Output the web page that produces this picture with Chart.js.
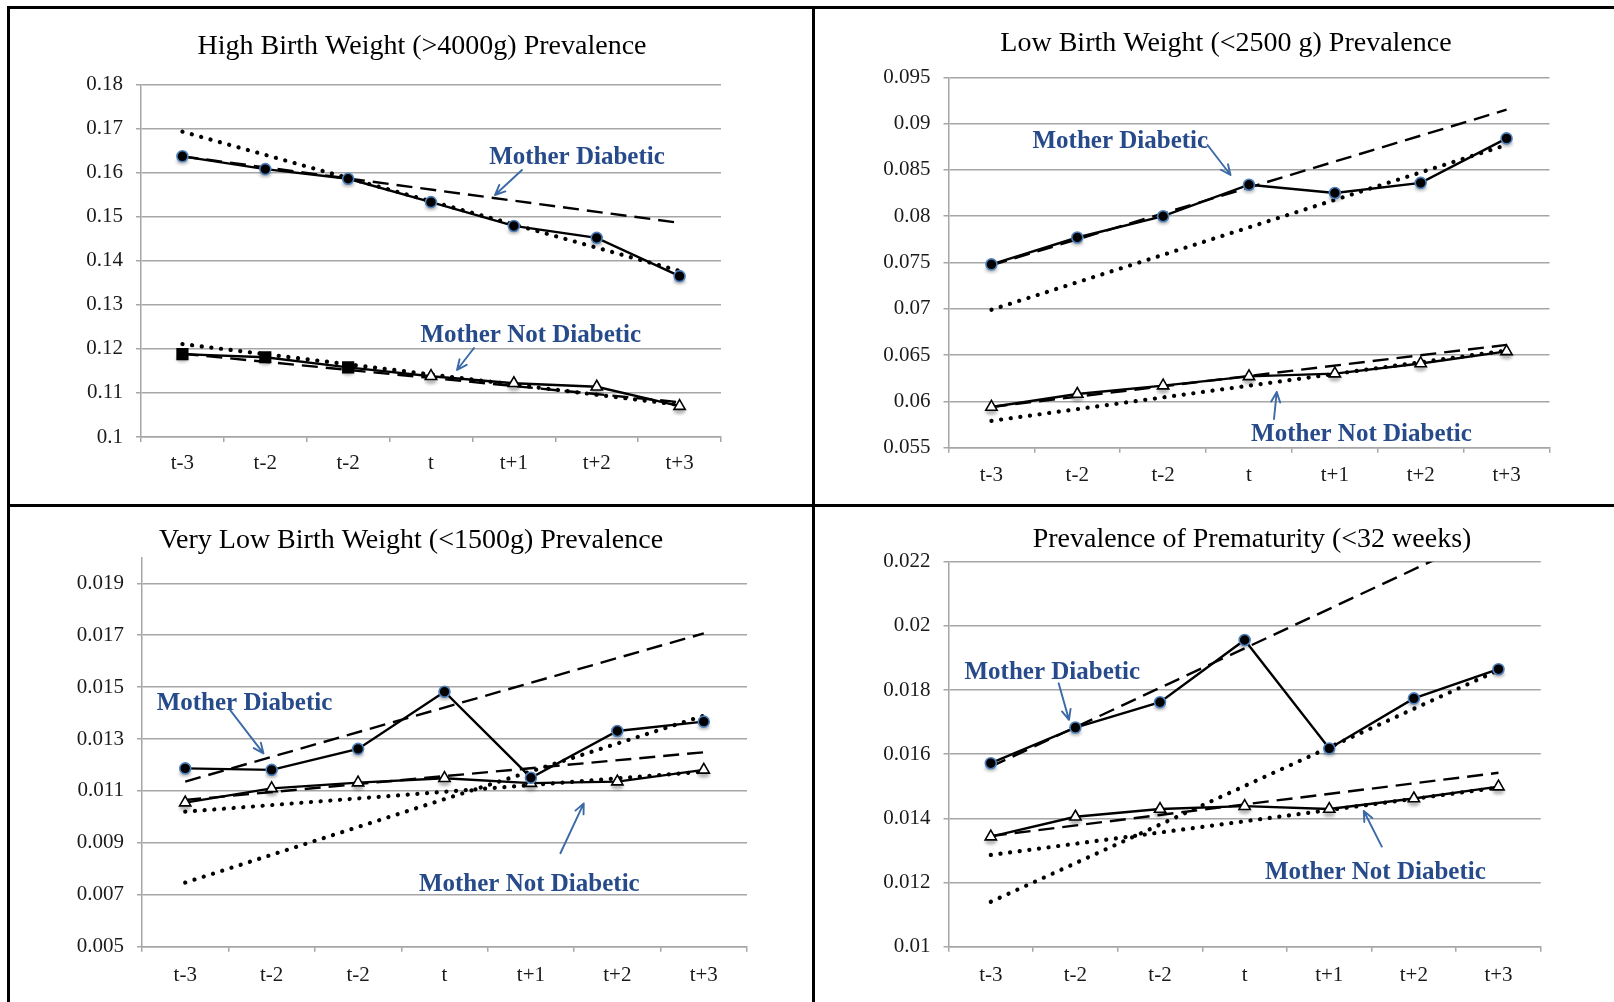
<!DOCTYPE html>
<html lang="en">
  <head>
    <meta charset="UTF-8" />
    <title>Birth outcomes, diabetic vs non-diabetic mothers</title>
    <style>
      * {
        margin: 0;
        padding: 0;
        box-sizing: border-box;
      }

      body {
        width: 1614px;
        height: 1002px;
        background: #fff;
        position: relative;
        overflow: hidden;
      }

      .rule {
        position: absolute;
        background: #000;
      }

      canvas {
        position: absolute;
      }
    </style>
  </head>
  <body>
    <div class="rule" style="left: 7px; top: 6px; width: 1607px; height: 3px"></div>
    <div class="rule" style="left: 7px; top: 6px; width: 3px; height: 996px"></div>
    <div class="rule" style="left: 812px; top: 6px; width: 3px; height: 996px"></div>
    <div class="rule" style="left: 7px; top: 504px; width: 1607px; height: 3px"></div>

    <canvas id="hbw" width="802" height="495" style="left: 10px; top: 9px"></canvas>
    <canvas id="lbw" width="799" height="495" style="left: 815px; top: 9px"></canvas>
    <canvas id="vlbw" width="802" height="495" style="left: 10px; top: 507px"></canvas>
    <canvas id="prem" width="799" height="495" style="left: 815px; top: 507px"></canvas>

    <script src="https://cdn.jsdelivr.net/npm/chart.js"></script>

    <script>
      const categories = ["t-3", "t-2", "t-2", "t", "t+1", "t+2", "t+3"];

      // High birth weight (>4000g)
      const hbwTicks = ["0.1", "0.11", "0.12", "0.13", "0.14", "0.15", "0.16", "0.17", "0.18"];
      const hbwDiabetic = [0.1637, 0.1608, 0.1586, 0.1533, 0.1479, 0.1452, 0.1365];
      const hbwNotDiabetic = [0.1188, 0.1181, 0.1158, 0.1138, 0.1122, 0.1114, 0.107];
      // trend lines: value at t-3 and at t+3
      const hbwDiabeticDashed = [0.1637, 0.1486];
      const hbwDiabeticDotted = [0.1693, 0.1377];
      const hbwNotDiabeticDashed = [0.1189, 0.1079];
      const hbwNotDiabeticDotted = [0.1211, 0.1073];

      // Low birth weight (<2500 g)
      const lbwTicks = ["0.055", "0.06", "0.065", "0.07", "0.075", "0.08", "0.085", "0.09", "0.095"];
      const lbwDiabetic = [0.0748, 0.0777, 0.08, 0.0834, 0.0825, 0.0836, 0.0884];
      const lbwNotDiabetic = [0.0594, 0.0608, 0.0617, 0.0627, 0.063, 0.0641, 0.0654];
      const lbwDiabeticDashed = [0.0747, 0.0915];
      const lbwDiabeticDotted = [0.0699, 0.0877];
      const lbwNotDiabeticDashed = [0.0594, 0.0661];
      const lbwNotDiabeticDotted = [0.0579, 0.0655];

      // Very low birth weight (<1500g)
      const vlbwTicks = ["0.005", "0.007", "0.009", "0.011", "0.013", "0.015", "0.017", "0.019"];
      const vlbwDiabetic = [0.01187, 0.01181, 0.01262, 0.01482, 0.01151, 0.01331, 0.01367];
      const vlbwNotDiabetic = [0.01055, 0.0111, 0.01132, 0.01149, 0.0113, 0.01136, 0.01181];
      const vlbwDiabeticDashed = [0.01136, 0.01707];
      const vlbwDiabeticDotted = [0.00747, 0.0139];
      const vlbwNotDiabeticDashed = [0.01065, 0.01249];
      const vlbwNotDiabeticDotted = [0.0102, 0.01174];

      // Prematurity (<32 weeks)
      const premTicks = ["0.01", "0.012", "0.014", "0.016", "0.018", "0.02", "0.022"];
      const premDiabetic = [0.01572, 0.01683, 0.01762, 0.01956, 0.01618, 0.01774, 0.01865];
      const premNotDiabetic = [0.01343, 0.01405, 0.01429, 0.01438, 0.01429, 0.01462, 0.01499];
      const premDiabeticDashed = [0.01561, 0.02299];
      const premDiabeticDotted = [0.0114, 0.01862];
      const premNotDiabeticDashed = [0.01345, 0.01542];
      const premNotDiabeticDotted = [0.01286, 0.01496];

      const GRID = "#a6a6a6";
      const NOTE = "#264a8a";
      const ARROW = "#3b6aa6";
      const tickFont = { family: "Liberation Serif", size: 21 };

      // annotation text and arrows, in category index / value units
      const notes = {
        hbw: {
          labels: [
            { text: "Mother Diabetic", x: 4.762, y: 0.16207 },
            { text: "Mother Not Diabetic", x: 4.204, y: 0.12165 },
          ],
          arrows: [
            [4.098, 0.1606, 3.772, 0.15492],
            [3.519, 0.1202, 3.314, 0.1152],
          ],
        },
        lbw: {
          labels: [
            { text: "Mother Diabetic", x: 1.501, y: 0.08733 },
            { text: "Mother Not Diabetic", x: 4.31, y: 0.05569 },
          ],
          arrows: [
            [2.517, 0.08769, 2.785, 0.08445],
            [3.291, 0.0581, 3.323, 0.06101],
          ],
        },
        vlbw: {
          labels: [
            { text: "Mother Diabetic", x: 0.686, y: 0.01411 },
            { text: "Mother Not Diabetic", x: 3.981, y: 0.007146 },
          ],
          arrows: [
            [0.518, 0.01412, 0.905, 0.01245],
            [4.341, 0.0086, 4.611, 0.01052],
          ],
        },
        prem: {
          labels: [
            { text: "Mother Diabetic", x: 0.727, y: 0.01834 },
            { text: "Mother Not Diabetic", x: 4.545, y: 0.01211 },
          ],
          arrows: [
            [0.802, 0.01821, 0.924, 0.01707],
            [4.621, 0.01312, 4.408, 0.01423],
          ],
        },
      };

      const panelTitle = {
        id: "panelTitle",
        afterDraw(chart, args, opts) {
          const ctx = chart.ctx;
          ctx.save();
          ctx.font = '28px "Liberation Serif"';
          ctx.fillStyle = "#000";
          ctx.textAlign = "center";
          ctx.textBaseline = "alphabetic";
          ctx.fillText(opts.text, opts.x, opts.y);
          ctx.restore();
        },
      };

      // soft grey shadow under the markers of the two observed series
      const markerShadow = {
        id: "markerShadow",
        beforeDatasetsDraw(chart) {
          const ctx = chart.ctx;
          ctx.save();
          ctx.filter = "blur(1.5px)";
          ctx.fillStyle = "rgba(0, 0, 0, 0.28)";
          [0, 1].forEach((i) => {
            chart.getDatasetMeta(i).data.forEach((pt) => {
              ctx.beginPath();
              ctx.ellipse(pt.x, pt.y + 5, 6, 3, 0, 0, Math.PI * 2);
              ctx.fill();
            });
          });
          ctx.restore();
        },
      };

      const callouts = {
        id: "callouts",
        afterDatasetsDraw(chart) {
          const {
            ctx,
            scales: { x, y },
          } = chart;
          const n = notes[chart.canvas.id];
          ctx.save();
          ctx.font = 'bold 25px "Liberation Serif"';
          ctx.fillStyle = NOTE;
          ctx.textAlign = "center";
          ctx.textBaseline = "alphabetic";
          n.labels.forEach((l) => {
            ctx.fillText(l.text, x.getPixelForValue(l.x), y.getPixelForValue(l.y));
          });

          ctx.strokeStyle = ARROW;
          ctx.lineWidth = 1.9;
          ctx.lineCap = "round";
          n.arrows.forEach((a) => {
            const x1 = x.getPixelForValue(a[0]);
            const y1 = y.getPixelForValue(a[1]);
            const x2 = x.getPixelForValue(a[2]);
            const y2 = y.getPixelForValue(a[3]);
            const ang = Math.atan2(y2 - y1, x2 - x1);
            ctx.beginPath();
            ctx.moveTo(x1, y1);
            ctx.lineTo(x2, y2);
            for (const s of [-1, 1]) {
              ctx.moveTo(x2, y2);
              ctx.lineTo(x2 - 11 * Math.cos(ang + s * 0.42), y2 - 11 * Math.sin(ang + s * 0.42));
            }
            ctx.stroke();
          });
          ctx.restore();
        },
      };

      // two-point trend line spanning t-3 .. t+3
      function trend(ends, dotted) {
        const data = categories.map(() => null);
        data[0] = ends[0];
        data[data.length - 1] = ends[1];
        return {
          data: data,
          spanGaps: true,
          borderColor: "#000",
          borderWidth: dotted ? 4.2 : 2.4,
          borderDash: dotted ? [0.1, 9.6] : [16, 8],
          borderCapStyle: dotted ? "round" : "butt",
          pointRadius: 0,
        };
      }

      function makePanel(p) {
        const tickValues = p.ticks.map(Number);
        const nd = p.notDiabeticMarkers || {};
        return new Chart(document.getElementById(p.id), {
          type: "line",
          data: {
            labels: categories,
            datasets: [
              {
                data: p.diabetic,
                borderColor: "#000",
                borderWidth: 2.4,
                pointStyle: "circle",
                pointRadius: 5.5,
                pointBackgroundColor: "#000",
                pointBorderColor: "#4f81bd",
                pointBorderWidth: 1.6,
              },
              {
                data: p.notDiabetic,
                borderColor: "#000",
                borderWidth: 2.4,
                pointStyle: nd.style || "triangle",
                pointRadius: nd.radius || 6.5,
                pointBackgroundColor: nd.fill || "#fff",
                pointBorderColor: "#000",
                pointBorderWidth: 1.6,
              },
              trend(p.diabeticDashed, false),
              trend(p.diabeticDotted, true),
              trend(p.notDiabeticDashed, false),
              trend(p.notDiabeticDotted, true),
            ],
          },
          options: {
            responsive: false,
            animation: false,
            events: [],
            layout: {
              padding: { top: p.top, right: p.right, left: 0, bottom: 0 },
            },
            plugins: {
              legend: { display: false },
              tooltip: { enabled: false },
              panelTitle: { text: p.title, x: p.titleX, y: p.titleY },
            },
            scales: {
              x: {
                offset: true,
                grid: {
                  offset: true,
                  drawOnChartArea: false,
                  tickLength: 5,
                  color: GRID,
                  lineWidth: 1.5,
                },
                border: { color: GRID, width: 1.5 },
                ticks: {
                  font: tickFont,
                  color: "#1a1a1a",
                  padding: p.xPad,
                  maxRotation: 0,
                  autoSkip: false,
                },
                afterFit(axis) {
                  axis.height = p.xHeight;
                },
              },
              y: {
                min: p.min,
                max: p.max,
                grid: { color: GRID, lineWidth: 1.5, tickLength: 5 },
                border: { color: GRID, width: 1.5 },
                ticks: {
                  font: tickFont,
                  color: "#1a1a1a",
                  padding: 13,
                  callback: (v, i) => p.ticks[i],
                },
                afterBuildTicks(axis) {
                  axis.ticks = tickValues.map((v) => ({ value: v }));
                },
                afterFit(axis) {
                  axis.width = p.yWidth;
                },
              },
            },
          },
          plugins: [panelTitle, markerShadow, callouts],
        });
      }

      makePanel({
        id: "hbw",
        title: "High Birth Weight (>4000g) Prevalence",
        titleX: 412,
        titleY: 45,
        min: 0.1,
        max: 0.18,
        ticks: hbwTicks,
        diabetic: hbwDiabetic,
        notDiabetic: hbwNotDiabetic,
        diabeticDashed: hbwDiabeticDashed,
        diabeticDotted: hbwDiabeticDotted,
        notDiabeticDashed: hbwNotDiabeticDashed,
        notDiabeticDotted: hbwNotDiabeticDotted,
        notDiabeticMarkers: {
          style: ["rect", "rect", "rect", "triangle", "triangle", "triangle", "triangle"],
          radius: [7.5, 7.5, 7.5, 6.5, 6.5, 6.5, 6.5],
          fill: ["#000", "#000", "#000", "#fff", "#fff", "#fff", "#fff"],
        },
        top: 75.5,
        right: 91,
        yWidth: 131,
        xHeight: 67,
        xPad: 8.4,
      });

      makePanel({
        id: "lbw",
        title: "Low Birth Weight (<2500 g) Prevalence",
        titleX: 411,
        titleY: 41.5,
        min: 0.055,
        max: 0.095,
        ticks: lbwTicks,
        diabetic: lbwDiabetic,
        notDiabetic: lbwNotDiabetic,
        diabeticDashed: lbwDiabeticDashed,
        diabeticDotted: lbwDiabeticDotted,
        notDiabeticDashed: lbwNotDiabeticDashed,
        notDiabeticDotted: lbwNotDiabeticDotted,
        top: 68.3,
        right: 64.5,
        yWidth: 133.5,
        xHeight: 56.3,
        xPad: 9.7,
      });

      makePanel({
        id: "vlbw",
        title: "Very Low Birth Weight (<1500g) Prevalence",
        titleX: 401,
        titleY: 41.3,
        min: 0.005,
        max: 0.02,
        ticks: vlbwTicks,
        diabetic: vlbwDiabetic,
        notDiabetic: vlbwNotDiabetic,
        diabeticDashed: vlbwDiabeticDashed,
        diabeticDotted: vlbwDiabeticDotted,
        notDiabeticDashed: vlbwNotDiabeticDashed,
        notDiabeticDotted: vlbwNotDiabeticDotted,
        top: 50.3,
        right: 65,
        yWidth: 132,
        xHeight: 55.3,
        xPad: 10.7,
      });

      makePanel({
        id: "prem",
        title: "Prevalence of Prematurity (<32 weeks)",
        titleX: 437,
        titleY: 39.7,
        min: 0.01,
        max: 0.022,
        ticks: premTicks,
        diabetic: premDiabetic,
        notDiabetic: premNotDiabetic,
        diabeticDashed: premDiabeticDashed,
        diabeticDotted: premDiabeticDotted,
        notDiabeticDashed: premNotDiabeticDashed,
        notDiabeticDotted: premNotDiabeticDotted,
        top: 54.7,
        right: 73.2,
        yWidth: 133.5,
        xHeight: 55.3,
        xPad: 10.7,
      });
    </script>
  </body>
</html>
